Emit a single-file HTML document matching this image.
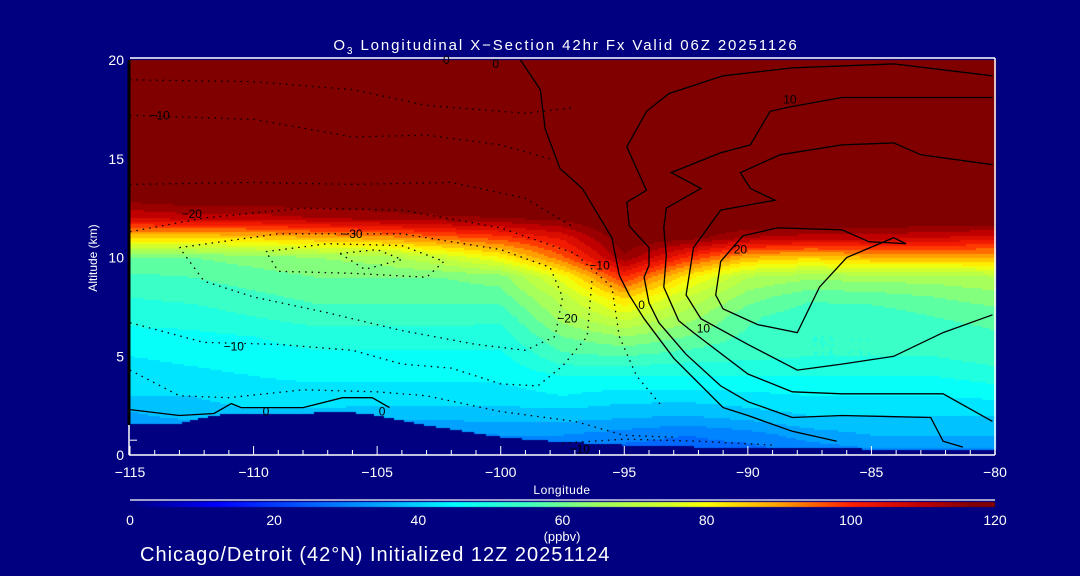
<!DOCTYPE html>
<html><head><meta charset="utf-8"><style>
html,body{margin:0;padding:0;background:#000080;}
#wrap{position:relative;width:1080px;height:576px;background:#000080;overflow:hidden;font-family:"Liberation Sans",sans-serif;color:#fff;}
canvas{position:absolute;left:0;top:0;}
svg{position:absolute;left:0;top:0;}
</style></head><body>
<div id="wrap">
<canvas id="field" width="1080" height="576"></canvas>
<svg id="ov" width="1080" height="576"></svg>
</div>
<script>
// ---- data ----
const lons = [-115,-112.5,-110,-107.5,-105,-102.5,-100,-97.5,-95,-92.5,-90,-87.5,-85,-82.5,-80];
const alts = [0,1,2,3,4,5,6,7,8,9,10,11,12,13,20];
const o3 = [
[25,25,25,25,25,25,25,25,25,25,25,28,30,30,30],
[30,30,30,30,30,30,32,32,30,28,30,34,36,36,36],
[35,38,39,39,38,38,38,38,37,36,38,40,40,40,40],
[40,40,42,42,42,42,42,44,42,42,43,44,44,44,45],
[42,43,44,45,45,45,45,48,48,48,48,48,48,48,50],
[44,45,46,47,47,47,47,55,56,54,53,52,52,52,54],
[46,47,48,50,50,50,50,60,64,60,55,52,52,53,55],
[50,50,52,54,54,54,53,66,74,66,57,53,53,56,58],
[52,53,55,57,57,57,58,70,85,72,62,57,58,60,62],
[55,56,58,60,60,60,62,78,100,82,68,65,66,66,68],
[60,60,62,64,66,72,80,95,115,100,88,85,88,88,88],
[84,84,85,88,90,94,98,105,120,118,112,110,110,108,106],
[108,110,110,112,114,115,116,118,122,122,122,122,122,122,122],
[118,120,120,120,120,122,122,122,125,125,125,125,125,125,125],
[125,125,125,125,125,125,125,125,125,125,125,125,125,125,125]
];
const terrainLon = [-115,-113,-112,-111,-110,-108,-106.3,-105,-103,-100,-98,-95,-92,-90,-85,-80];
const terrainAlt = [1.6,1.6,1.9,2.1,2.1,2.1,2.2,2.0,1.5,0.9,0.7,0.5,0.4,0.35,0.3,0.3];
const xTicks = [-115,-110,-105,-100,-95,-90,-85,-80];
const yTicks = [0,5,10,15,20];
const cbTicks = [0,20,40,60,80,100,120];
const solidLines = [
 [[-99.2,20],[-98.4,18.5],[-98.2,16.5],[-97.6,14.5],[-96.7,13.5],[-95.5,11.0],[-95.2,9.1],[-94.8,8.1],[-94.2,6.9],[-93.0,4.9],[-92.2,3.9],[-91.0,2.4],[-90.0,2.0],[-88.2,1.2],[-86.4,0.7]],
 [[-80.1,19.2],[-84.1,19.8],[-88.2,19.6],[-91.0,19.2],[-93.2,18.3],[-94.1,17.4],[-94.9,15.6],[-94.1,13.4],[-94.9,12.8],[-94.8,11.6],[-94.0,10.5],[-94.0,9.6],[-94.2,9.0],[-94.0,7.7],[-93.6,6.7],[-92.5,5.1],[-91.1,3.5],[-90.0,2.7],[-88.2,1.9],[-86.2,2.0],[-82.6,1.9],[-82.1,0.7],[-81.3,0.4]],
 [[-80.1,18.1],[-82.8,18.1],[-86.2,18.1],[-88.4,17.6],[-89.1,17.4],[-89.9,15.7],[-91.1,15.3],[-93.1,14.3],[-91.9,13.5],[-93.3,12.5],[-93.4,11.5],[-93.3,10.1],[-93.4,8.5],[-92.8,6.8],[-92.2,6.2],[-90.0,4.1],[-88.2,3.2],[-86.2,3.1],[-82.1,3.1],[-80.1,1.7]],
 [[-80.1,14.7],[-83.0,15.2],[-84.1,15.8],[-86.2,15.7],[-88.7,15.2],[-90.3,14.3],[-89.9,13.5],[-88.9,12.9],[-91.1,12.4],[-92.2,10.5],[-92.5,8.1],[-91.9,6.9],[-90.0,5.6],[-88.0,4.3],[-86.2,4.6],[-84.1,5.0],[-82.1,6.2],[-80.1,7.1]],
 [[-85.1,10.8],[-83.6,10.7],[-84.1,11.0],[-86.0,10.0],[-87.1,8.5],[-88.0,6.2],[-89.6,6.6],[-91.0,7.4],[-91.3,8.1],[-91.1,9.8],[-90.2,11.1],[-88.8,11.5],[-86.2,11.4],[-85.1,10.8]],
 [[-115,2.3],[-113,2.0],[-111.6,2.1],[-110.9,2.6],[-110.5,2.4],[-108,2.4],[-106.4,2.9],[-105.2,2.9],[-104.5,2.4]]
];
const dottedLines = [
 [[-115,19.0],[-110,18.9],[-106,18.5],[-103,17.7],[-99,17.3],[-97,17.6]],
 [[-115,17.2],[-110,17.0],[-106,16.1],[-103,16.2],[-100,15.7],[-98,15.0]],
 [[-115,13.7],[-110,13.8],[-106,13.7],[-102,13.8],[-99,13.0],[-97,11.5]],
 [[-115,11.3],[-112,12.0],[-108,12.5],[-104,12.4],[-100,11.5],[-97,10.2],[-95.5,8.5],[-95.2,6],[-94.5,4],[-93.5,2.5]],
 [[-109.5,10.3],[-107,10.7],[-104,10.6],[-102.3,9.8],[-103,9.0],[-106,9.2],[-109,9.3],[-109.5,10.3]],
 [[-106.5,10.2],[-105,10.4],[-104,9.9],[-105.5,9.4],[-106.5,10.2]],
 [[-113,10.5],[-109,11.2],[-104,11.2],[-100,10.4],[-98,9.5],[-97.5,8],[-97.8,6],[-99,5.3],[-101,5.6],[-104,6.3],[-107,7.2],[-110,8],[-112,8.8],[-113,10.5]],
 [[-115,6.7],[-112,5.7],[-109,5.6],[-106,5.3],[-104,4.6],[-102,4.4],[-100,3.6],[-98.5,3.5],[-97.5,4.5],[-96.5,6],[-96.3,9]],
 [[-115,4.3],[-113,3.0],[-111,2.9],[-108,3.3],[-105,3.2],[-103,3.0],[-100,2.2],[-97,1.7],[-95,1.0],[-93,0.9]],
 [[-97.5,0.6],[-95,0.8],[-92,0.7],[-89,0.5]]
];
// ---- axes ----
const X0=130,X1=995,Y0=455,Y1=60;
const xS = lon => X0 + (lon+115)/35*(X1-X0);
const yS = a => Y0 - a/20*(Y0-Y1);
const stops=[[0,0,0,128],[12,0,0,255],[25,0,96,255],[35,0,168,255],[45,0,255,255],[55,64,255,192],[65,160,255,96],[75,216,255,40],[80,255,255,0],[90,255,160,0],[100,255,32,0],[110,192,0,0],[117,128,0,0],[200,128,0,0]];
function cmap(v){v=Math.max(0,v);for(let i=0;i<stops.length-1;i++){const a=stops[i],b=stops[i+1];if(v<=b[0]){const t=(v-a[0])/(b[0]-a[0]);return [0,1,2].map(k=>Math.round(a[k+1]+(b[k+1]-a[k+1])*t));}}return [128,0,0];}
function interp1(xs,ys,x){if(x<=xs[0])return ys[0];for(let i=0;i<xs.length-1;i++){if(x<=xs[i+1]){const t=(x-xs[i])/(xs[i+1]-xs[i]);return ys[i]+(ys[i+1]-ys[i])*t;}}return ys[ys.length-1];}
function idx(arr,v){for(let i=0;i<arr.length-1;i++)if(v<=arr[i+1])return i;return arr.length-2;}
function field(lon,alt){const i=idx(lons,lon),j=idx(alts,alt);const tx=(lon-lons[i])/(lons[i+1]-lons[i]),ty=(alt-alts[j])/(alts[j+1]-alts[j]);
 return o3[j][i]*(1-tx)*(1-ty)+o3[j][i+1]*tx*(1-ty)+o3[j+1][i]*(1-tx)*ty+o3[j+1][i+1]*tx*ty;}
const ctx=document.getElementById('field').getContext('2d');
for(let px=X0;px<X1;px+=2){for(let py=Y1;py<Y0;py+=2){
 const lon=-115+(px+1-X0)/(X1-X0)*35, alt=(Y0-py-1)/(Y0-Y1)*20;
 if(alt<interp1(terrainLon,terrainAlt,lon)){ctx.fillStyle='rgb(0,0,128)';}
 else{let v=field(lon,alt);v=Math.floor(v/4)*4+2;const c=cmap(v);ctx.fillStyle=`rgb(${c[0]},${c[1]},${c[2]})`;}
 ctx.fillRect(px,py,2,2);}}
// colorbar
for(let px=X0;px<X1;px++){const c=cmap((px-X0)/(X1-X0)*120);ctx.fillStyle=`rgb(${c[0]},${c[1]},${c[2]})`;ctx.fillRect(px,502,1,5);}
// ---- overlay ----
const NS='http://www.w3.org/2000/svg', ov=document.getElementById('ov');
function mk(tag,attrs,text){const e=document.createElementNS(NS,tag);for(const k in attrs)e.setAttribute(k,attrs[k]);if(text!==undefined)e.textContent=text;ov.appendChild(e);return e;}
const ptsStr=l=>l.map(p=>xS(p[0]).toFixed(1)+','+yS(p[1]).toFixed(1)).join(' ');
solidLines.forEach(l=>{const e=mk('polyline',{points:ptsStr(l),fill:'none',stroke:'#000','stroke-width':1.3});

});
dottedLines.forEach(l=>{const e=mk('polyline',{points:ptsStr(l),fill:'none',stroke:'#000','stroke-width':1.3,'stroke-dasharray':'1.5 5'});

});
// frame
let e;
e=mk('line',{x1:X0,y1:Y1-2,x2:X1,y2:Y1-2,stroke:'#fff','stroke-width':1.5});
e=mk('line',{x1:X1,y1:Y1-2,x2:X1,y2:Y0,stroke:'#fff','stroke-width':1.5});
e=mk('line',{x1:X0-1,y1:Y1,x2:X0-1,y2:Y0-30,stroke:'#000','stroke-width':3});
e=mk('line',{x1:X0-1,y1:Y0-30,x2:X0-1,y2:Y0,stroke:'#fff','stroke-width':1.5});
e=mk('line',{x1:X0-1,y1:Y0,x2:X1,y2:Y0,stroke:'#fff','stroke-width':1.5});
for(let l=-115;l<=-80;l++){const major=xTicks.includes(l);e=mk('line',{x1:xS(l),y1:Y0,x2:xS(l),y2:Y0-(major?9:5),stroke:'#fff','stroke-width':1});}
xTicks.forEach(l=>{e=mk('text',{x:xS(l),y:Y0+22,fill:'#fff','font-size':14,'text-anchor':'middle'},'\u2212'+Math.abs(l));});
yTicks.forEach(a=>{e=mk('text',{x:X0-6,y:yS(a)+5,fill:'#fff','font-size':14,'text-anchor':'end'},String(a));});
e=mk('line',{x1:X0,y1:yS(0.75),x2:X0+7,y2:yS(0.75),stroke:'#fff','stroke-width':1});
e=mk('text',{x:562,y:494,fill:'#fff','font-size':12,'text-anchor':'middle','letter-spacing':'0.5'},'Longitude');
e=mk('text',{x:97,y:258,fill:'#fff','font-size':12,'text-anchor':'middle',transform:'rotate(-90 97 258)'},'Altitude (km)');
e=mk('text',{x:566,y:50,fill:'#fff','font-size':15,'text-anchor':'middle','letter-spacing':'1.9'});
e.innerHTML='O<tspan font-size="10" dy="4">3</tspan><tspan dy="-4"> Longitudinal X\u2212Section 42hr  Fx Valid 06Z 20251126</tspan>';
e=mk('line',{x1:X0,y1:500,x2:X1,y2:500,stroke:'#fff','stroke-width':1.2});
cbTicks.forEach(v=>{e=mk('text',{x:X0+v/120*(X1-X0),y:525,fill:'#fff','font-size':14,'text-anchor':'middle'},String(v));});
e=mk('text',{x:562,y:541,fill:'#fff','font-size':13,'text-anchor':'middle'},'(ppbv)');
e=mk('text',{x:140,y:561,fill:'#fff','font-size':20,'letter-spacing':'1.0'},'Chicago/Detroit (42°N) Initialized 12Z 20251124');
// contour labels
const labels=[[-113.8,17.2,'\u221210'],[-112.5,12.2,'\u221220'],[-106,11.2,'\u221230'],[-110.8,5.5,'\u221210'],[-97.3,6.9,'\u221220'],[-96,9.6,'\u221210'],[-94.3,7.6,'0'],[-91.8,6.4,'10'],[-88.3,18.0,'10'],[-90.3,10.4,'20'],[-109.5,2.2,'0'],[-104.8,2.2,'0'],[-96.8,0.3,'\u221210'],[-102.2,20,'0'],[-100.2,19.8,'0']];
labels.forEach(l=>{e=mk('text',{x:xS(l[0]),y:yS(l[1])+4,fill:'#000','font-size':12,'text-anchor':'middle'},l[2]);});
</script>
</body></html>
